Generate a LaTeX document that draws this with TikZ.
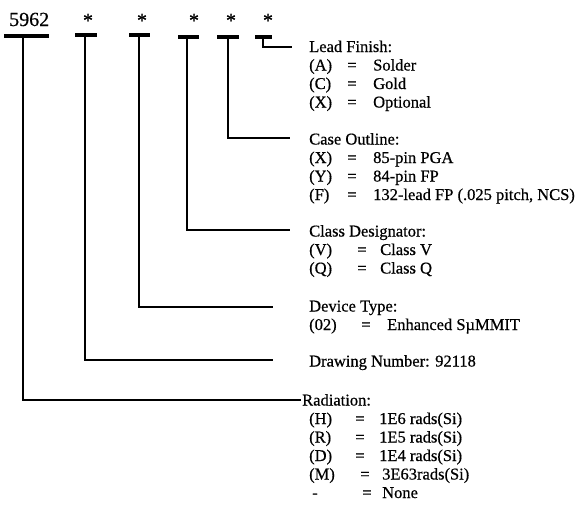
\documentclass[tikz,border=0pt]{standalone}
\usepackage{fontspec}
\setmainfont[FakeBold=0.6]{Liberation Serif}
\begin{document}
\begin{tikzpicture}[x=1pt,y=-1pt,
  every node/.style={inner sep=0pt, font=\fontsize{16.5}{20}\selectfont},
  big/.style={font=\fontsize{20}{24}\selectfont, anchor=base},
  lab/.style={anchor=base west},
  eq/.style={anchor=base},
  bar/.style={line width=3.2pt},
  lead/.style={line width=2.4pt}]
\useasboundingbox (0,0) rectangle (581,504);
% header
\node[big, anchor=base west] (num) at (9,26) {5962};
\node[big] (s1) at (88,27) {*};
\node[big] (s2) at (142,27) {*};
\node[big] (s3) at (194,27) {*};
\node[big] (s4) at (231,27) {*};
\node[big] (s5) at (268,27) {*};
% bars
\coordinate (b0l) at (4,36);   \coordinate (b0r) at (49,36);   \coordinate (b0) at (23,36);
\coordinate (b1l) at (75,35);  \coordinate (b1r) at (97,35);   \coordinate (b1) at (85,35);
\coordinate (b2l) at (129,35); \coordinate (b2r) at (150,35);  \coordinate (b2) at (139,35);
\coordinate (b3l) at (178,37); \coordinate (b3r) at (199,37);  \coordinate (b3) at (187,37);
\coordinate (b4l) at (217,37); \coordinate (b4r) at (239,37);  \coordinate (b4) at (228,37);
\coordinate (b5l) at (255,37); \coordinate (b5r) at (272,37);  \coordinate (b5) at (263,37);
\foreach \i in {0,...,5} { \draw[bar] (b\i l) -- (b\i r); }
% stub ends
\coordinate (e0) at (301,400);
\coordinate (e1) at (273,360);
\coordinate (e2) at (273,307);
\coordinate (e3) at (290,230);
\coordinate (e4) at (290,138);
\coordinate (e5) at (292,47);
\foreach \i in {0,...,5} { \draw[lead] (b\i) |- (e\i); }
% Lead Finish
\node[lab] (lf) at (309,52) {Lead Finish:};
\node[lab] (lfa) at (309,70.5) {(A)}; \node[eq] (lfae) at (352,70.5) {=}; \node[lab] (lfav) at (373,70.5) {Solder};
\node[lab] (lfc) at (309,89) {(C)};   \node[eq] (lfce) at (352,89) {=};   \node[lab] (lfcv) at (373,89) {Gold};
\node[lab] (lfx) at (309,107.5) {(X)}; \node[eq] (lfxe) at (352,107.5) {=}; \node[lab] (lfxv) at (373,107.5) {Optional};
% Case Outline
\node[lab] (co) at (309,144.5) {Case Outline:};
\node[lab] (cox) at (309,163) {(X)};  \node[eq] (coxe) at (352,163) {=};  \node[lab] (coxv) at (373,163) {85-pin PGA};
\node[lab] (coy) at (309,181.5) {(Y)}; \node[eq] (coye) at (352,181.5) {=}; \node[lab] (coyv) at (373,181.5) {84-pin FP};
\node[lab] (cof) at (309,200) {(F)};  \node[eq] (cofe) at (352,200) {=};  \node[lab] (cofv) at (373,200) {132-lead FP (.025 pitch, NCS)};
% Class Designator
\node[lab] (cd) at (309,236.5) {Class Designator:};
\node[lab] (cdv) at (309,255) {(V)};  \node[eq] (cdve) at (362,255) {=};  \node[lab] (cdvv) at (380,255) {Class V};
\node[lab] (cdq) at (309,273.5) {(Q)}; \node[eq] (cdqe) at (362,273.5) {=}; \node[lab] (cdqv) at (380,273.5) {Class Q};
% Device Type
\node[lab] (dt) at (309,311.5) {Device Type:};
\node[lab] (dt2) at (309,330) {(02)}; \node[eq] (dt2e) at (366,330) {=}; \node[lab] (dt2v) at (387,330) {Enhanced SµMMIT};
% Drawing Number
\node[lab] (dn) at (309,366.5) {Drawing Number: 92118};
% Radiation
\node[lab] (rd) at (302,405.5) {Radiation:};
\node[lab] (rdh) at (309,424) {(H)};   \node[eq] (rdhe) at (360,424) {=};   \node[lab] (rdhv) at (379,424) {1E6 rads(Si)};
\node[lab] (rdr) at (309,442.5) {(R)}; \node[eq] (rdre) at (360,442.5) {=}; \node[lab] (rdrv) at (379,442.5) {1E5 rads(Si)};
\node[lab] (rdd) at (309,461) {(D)};   \node[eq] (rdde) at (360,461) {=};   \node[lab] (rddv) at (379,461) {1E4 rads(Si)};
\node[lab] (rdm) at (309,479.5) {(M)}; \node[eq] (rdme) at (365,479.5) {=}; \node[lab] (rdmv) at (382,479.5) {3E63rads(Si)};
\node[lab] (rdn) at (312,498) {-};     \node[eq] (rdne) at (367,498) {=};   \node[lab] (rdnv) at (382,498) {None};
\end{tikzpicture}
\end{document}
